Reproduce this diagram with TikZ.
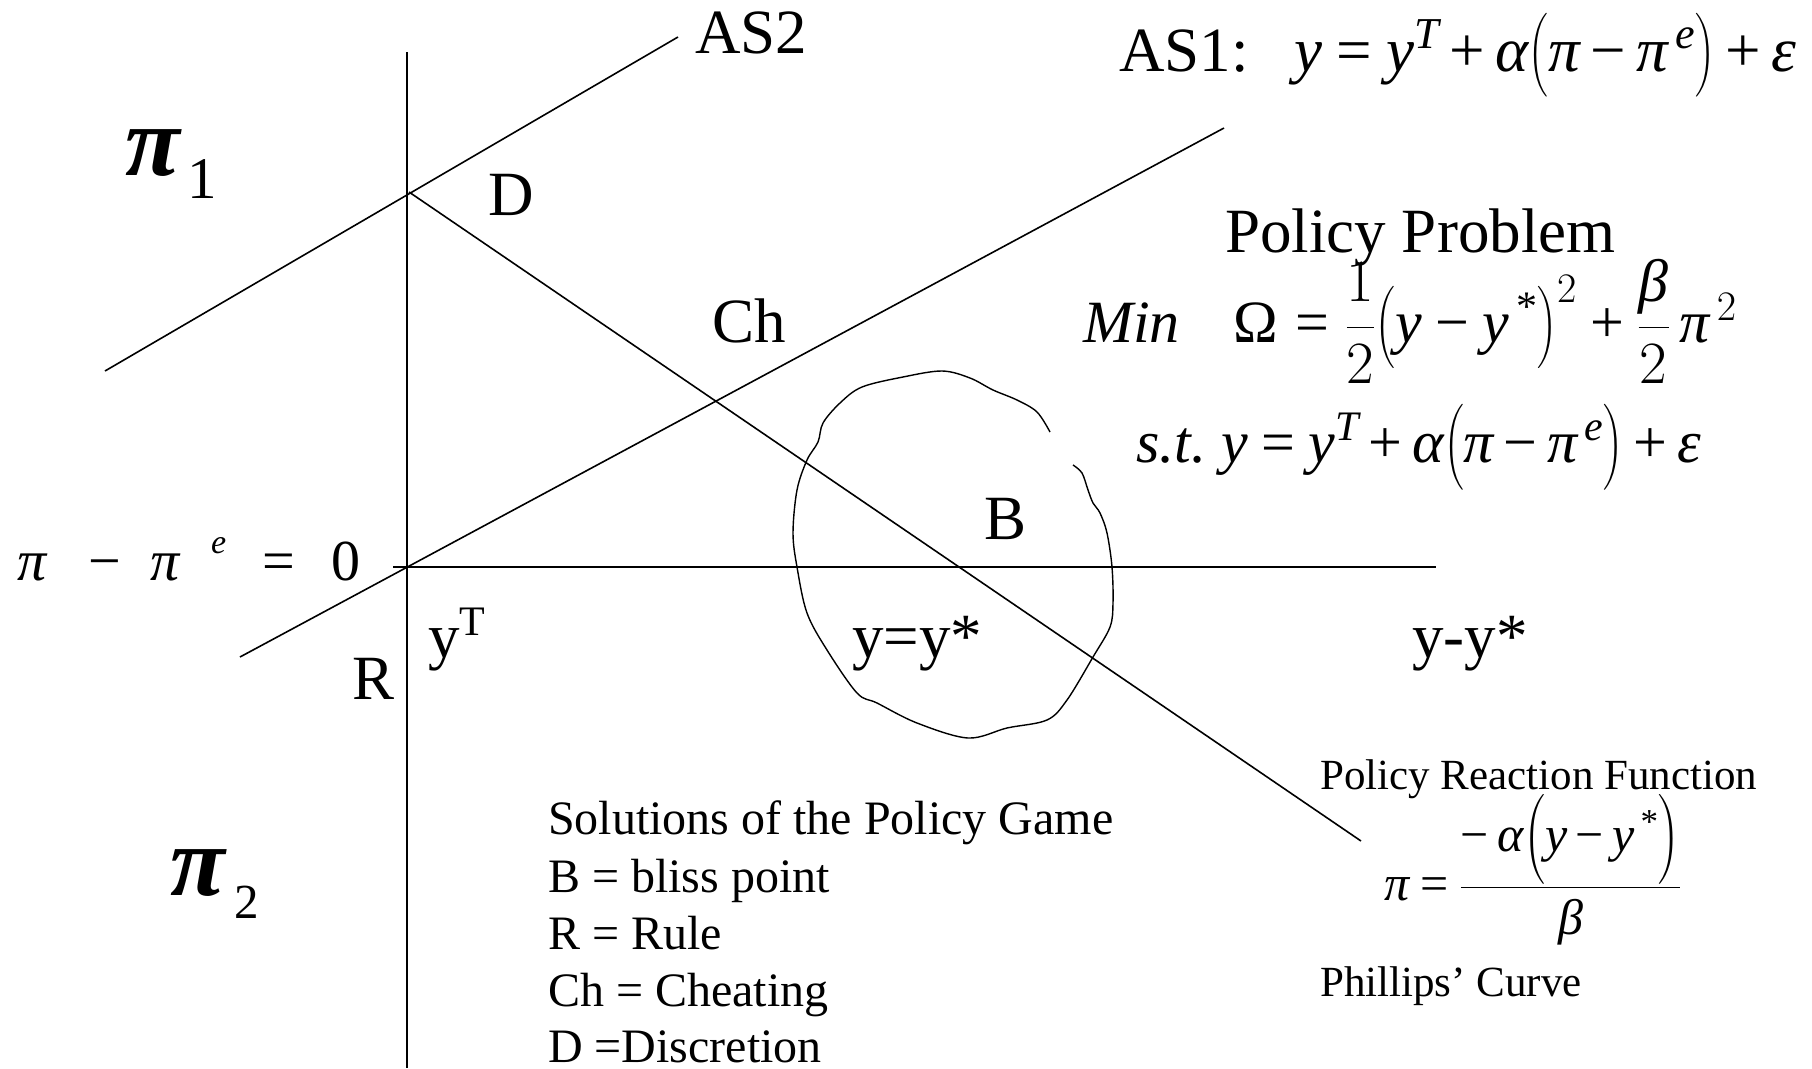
\RequirePackage{fix-cm}
\documentclass[tikz,border=0pt]{standalone}
\usepackage{amsmath}
\usepackage{graphicx}
\usepackage{fontspec}
\setmainfont{Liberation Serif}
\newcommand\qy{\text{\itshape y}}
\newcommand\qpi{\text{\itshape π}}
\newcommand\qal{\text{\itshape α}}
\newcommand\qbe{\text{\itshape β}}
\newcommand\qep{\text{\itshape ε}}
\newcommand\qOm{\text{Ω}}
\newcommand\qT{\text{\itshape T}}
\newcommand\qe{\text{\itshape e}}
\newcommand\qst{\text{*}}
\newcommand\qeq{\mathrel{\text{=}}}
\newcommand\qpl{\mathbin{\text{+}}}
\newcommand\qmi{\mathbin{\text{−}}}
\newcommand\qsp{\medmuskip=3mu\thickmuskip=4mu}
\newcommand\qlp[1]{\mathopen{\vcenter{\hbox{\scalebox{1}[#1]{$\bigl($}}}}}
\newcommand\qrp[1]{\mathclose{\vcenter{\hbox{\scalebox{1}[#1]{$\bigr)$}}}}}
\newcommand\fbig{\fontsize{63}{75}\selectfont}
\newcommand\fmid{\fontsize{48}{57}\selectfont}
\tikzset{
  lbl/.style={inner sep=0pt, anchor=base west},
  ln/.style={line width=1.6pt},
}
\begin{document}
\begin{tikzpicture}[x=1pt,y=-1pt]
\useasboundingbox[fill=white] (0,0) rectangle (1812,1068);
% axes and lines
\coordinate (vtop) at (407,52);
\coordinate (vbot) at (407,1068);
\coordinate (hl) at (393,567);
\coordinate (hr) at (1436,567);
\coordinate (as2a) at (105,371);
\coordinate (as2b) at (678,37);
\coordinate (as1a) at (240,657);
\coordinate (as1b) at (1224,128);
\coordinate (prfa) at (409,192);
\coordinate (prfb) at (1361,841);
\draw[ln] (vtop) -- (vbot);
\draw[ln] (hl) -- (hr);
\draw[ln] (as2a) -- (as2b);
\draw[ln] (as1a) -- (as1b);
\draw[ln] (prfa) -- (prfb);
% indifference blob
\draw[line width=1.4pt] plot[smooth,tension=0.55] coordinates {(1050,432) (1037,412) (1017,400) (993,390) (970,378) (942,371) (903,377) (862,387) (840,403) (823,423) (818,442) (807,460) (797,490) (793,533) (797,567) (807,613) (827,650) (857,693) (877,703) (917,723) (968,738) (1007,728) (1047,720) (1067,700) (1093,657) (1110,627) (1113,603) (1112,567) (1107,533) (1100,513) (1093,503) (1088,490) (1082,473) (1073,465)};
% big labels
\node[lbl,font=\fbig] (as2) at (695,53) {AS2};
\node[lbl,font=\fbig] (as1) at (1119,71) {AS1:\hspace{46pt}$\qsp\qy \qeq \qy^{\qT} \qpl \qal\qlp{1.12}\qpi \qmi \qpi^{\,\qe}\qrp{1.12} \qpl \qep$};
\node[lbl,font=\fbig] (d) at (488,215) {D};
\node[lbl,font=\fbig] (ch) at (712,342) {Ch};
\node[lbl,font=\fbig] (b) at (984,539) {B};
\node[lbl,font=\fbig] (r) at (352,699) {R};
\node[lbl,font=\fbig] (yt) at (428,657) {y\raisebox{22pt}{\fontsize{42}{42}\selectfont T}};
\node[lbl,font=\fbig] (yys) at (852,657) {y=y*};
\node[lbl,font=\fbig] (ymys) at (1412,657) {y-y*};
% pi labels
\node[lbl,font=\fontsize{100}{100}\selectfont\bfseries\itshape] (pi1) at (125,175) {π};
\node[lbl,font=\fontsize{59}{59}\selectfont] (pi1s) at (187,198) {1};
\node[lbl,font=\fontsize{100}{100}\selectfont\bfseries\itshape] (pi2) at (170,895) {π};
\node[lbl,font=\fontsize{49}{49}\selectfont] (pi2s) at (234,918) {2};
% pi - pi^e = 0
\node[lbl,font=\fontsize{58}{58}\selectfont\itshape] (pe1) at (17,580) {π};
\node[lbl,font=\fontsize{58}{58}\selectfont] (pe2) at (88,580) {−};
\node[lbl,font=\fontsize{58}{58}\selectfont\itshape] (pe3) at (150,580) {π};
\node[lbl,font=\fontsize{34}{34}\selectfont\itshape] (pe4) at (211,553) {e};
\node[lbl,font=\fontsize{58}{58}\selectfont] (pe5) at (262,580) {=};
\node[lbl,font=\fontsize{58}{58}\selectfont] (pe6) at (331,580) {0};
% policy problem
\node[lbl,font=\fbig] (pp) at (1225,252) {Policy Problem};
\node[lbl,font=\fontsize{60}{72}\selectfont] (minq) at (1083,342) {\itshape Min\upshape\hspace{54pt}$\qOm \qeq \dfrac{1}{2}\qlp{1.1}\qy \qmi \qy^{\,\qst}\qrp{1.1}^{2} \qpl \dfrac{\qbe}{2}\,\qpi^{\,2}$};
\node[lbl,font=\fontsize{60}{72}\selectfont] (stq) at (1136,462) {\itshape s.t.\upshape\ $\qsp\qy \qeq \qy^{\qT} \qpl \qal\qlp{1.15}\qpi \qmi \qpi^{\,\qe}\qrp{1.15} \qpl \qep$};
% policy reaction function
\node[lbl,font=\fontsize{43}{50}\selectfont] (prf) at (1320,789) {Policy Reaction Function};
\node[lbl,font=\fontsize{50}{60}\selectfont] (prfq) at (1384,900) {$\qsp\qpi \qeq \dfrac{\text{−}\,\qal\Bigl(\qy \qmi \qy^{\,\qst}\Bigr)}{\qbe}$};
\node[lbl,font=\fontsize{43}{50}\selectfont] (pc) at (1320,996) {Phillips’ Curve};
% solutions
\node[lbl,font=\fmid] (s1) at (548,834) {Solutions of the Policy Game};
\node[lbl,font=\fmid] (s2) at (548,892) {B = bliss point};
\node[lbl,font=\fmid] (s3) at (548,949) {R = Rule};
\node[lbl,font=\fmid] (s4) at (548,1006) {Ch = Cheating};
\node[lbl,font=\fmid] (s5) at (548,1062) {D =Discretion};
\end{tikzpicture}
\end{document}
